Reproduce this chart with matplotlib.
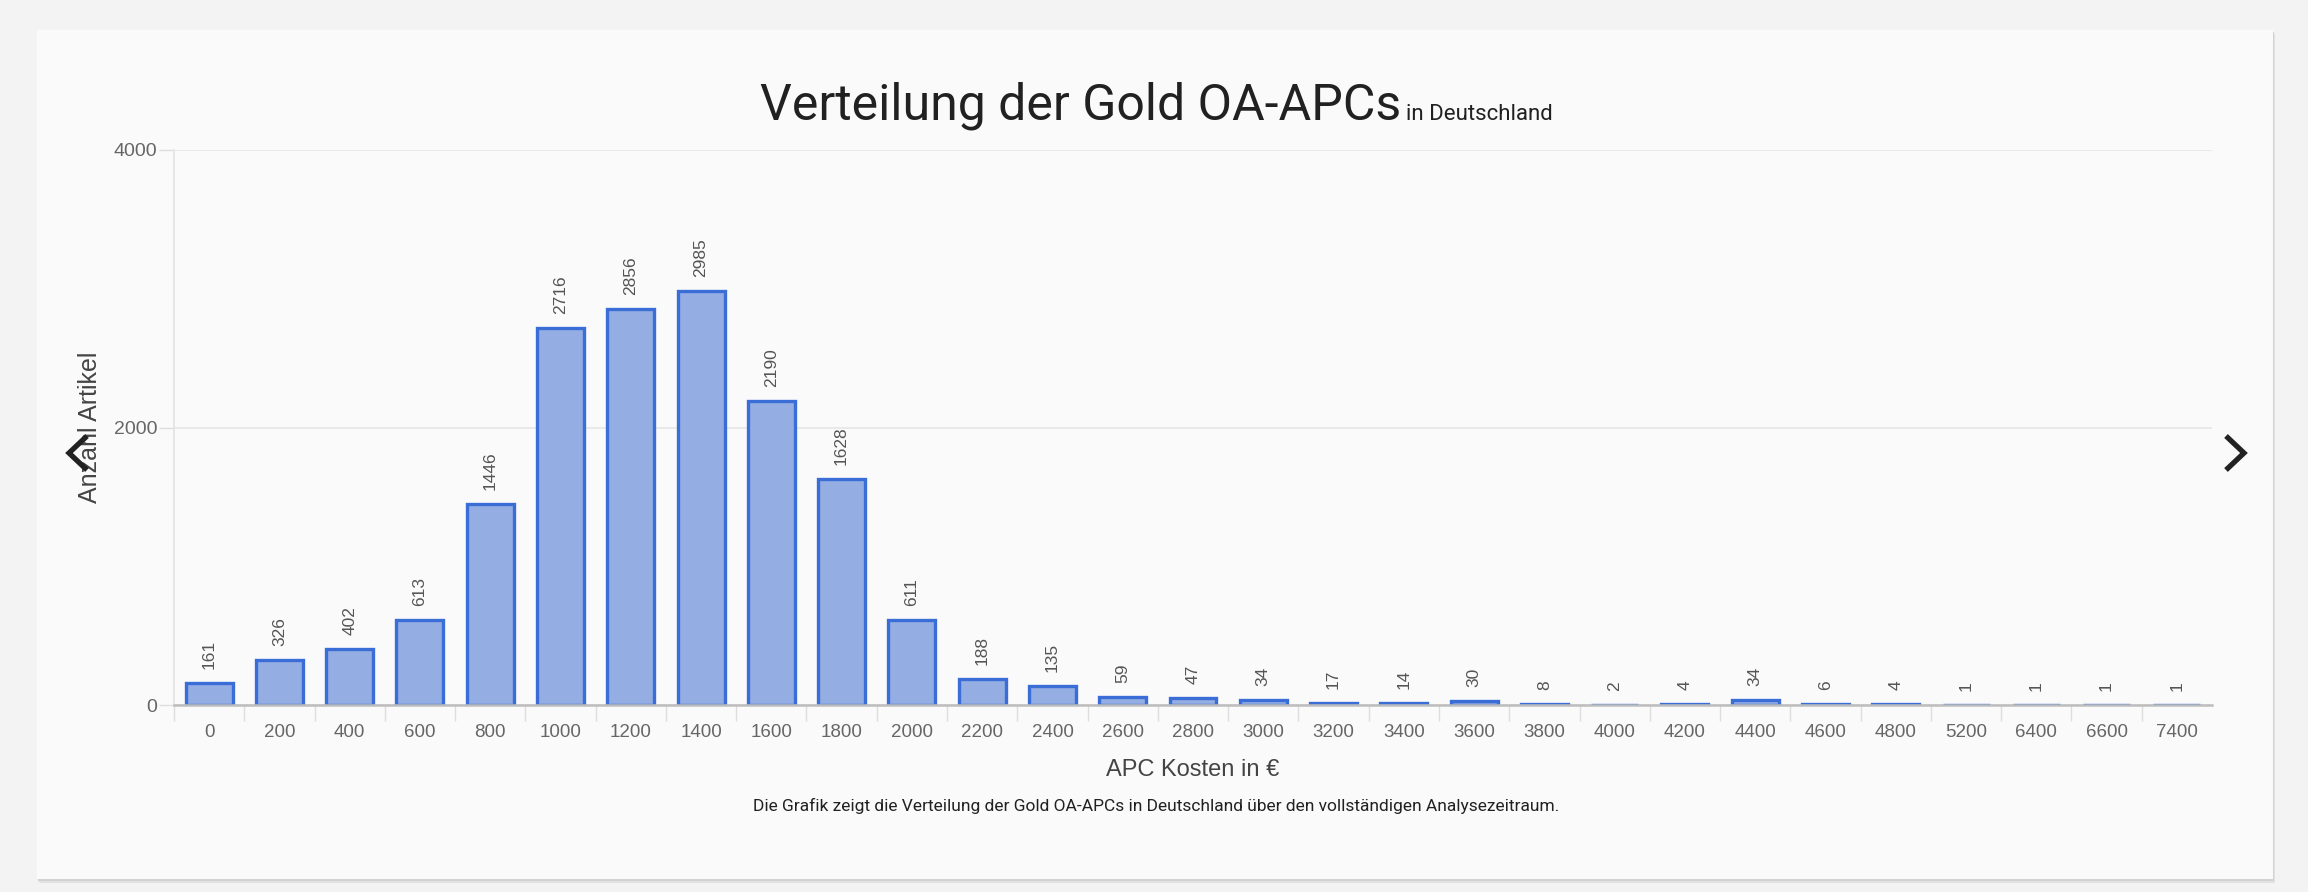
"""
Verteilung der Gold OA-APCs in Deutschland - bar chart recreation.
"""

import matplotlib
matplotlib.use('Agg')
import matplotlib.pyplot as plt
from matplotlib.lines import Line2D
from matplotlib.patches import Rectangle
from matplotlib.ticker import FixedLocator

# Data
CATEGORIES = ['0', '200', '400', '600', '800', '1000', '1200', '1400', '1600',
              '1800', '2000', '2200', '2400', '2600', '2800', '3000', '3200',
              '3400', '3600', '3800', '4000', '4200', '4400', '4600', '4800',
              '5200', '6400', '6600', '7400']
COUNTS = [161, 326, 402, 613, 1446, 2716, 2856, 2985, 2190, 1628, 611, 188,
          135, 59, 47, 34, 17, 14, 30, 8, 2, 4, 34, 6, 4, 1, 1, 1, 1]
Y_TICKS = [0, 2000, 4000]

TITLE = 'Verteilung der Gold OA-APCs'
SUBTITLE = 'in Deutschland'
X_LABEL = 'APC Kosten in €'
Y_LABEL = 'Anzahl Artikel'
CAPTION = ('Die Grafik zeigt die Verteilung der Gold OA-APCs in Deutschland '
           'über den vollständigen Analysezeitraum.')

# Style
W, H = 2308, 892
DPI = 100
BAR_FILL = '#94ade3'
BAR_EDGE = '#3b6dd7'
TEXT_DARK = '#212121'
TICK_GREY = '#666666'
SANS = ['Liberation Sans', 'DejaVu Sans']
ROBOTO = ['Roboto', 'DejaVu Sans']


def px(x, y):
    """Pixel position (from top-left) to figure fraction."""
    return x / W, 1 - y / H


fig = plt.figure(figsize=(W / DPI, H / DPI), dpi=DPI, facecolor='#f3f3f3')

# Card with a soft shadow (kept behind the axes)
for off, col, z in [(4, '#e2e2e2', -3), (2, '#d2d2d2', -2)]:
    fig.patches.append(Rectangle(px(37 + off / 2, 879 + off), (2273 - 37) / W, (879 - 30) / H,
                                 transform=fig.transFigure, facecolor=col,
                                 edgecolor='none', zorder=z))
fig.patches.append(Rectangle(px(37, 879), (2273 - 37) / W, (879 - 30) / H,
                             transform=fig.transFigure, facecolor='#fafafa',
                             edgecolor='none', zorder=-1))

# Axes: plot area 174..2212 px wide, 150..705 px tall
ax = fig.add_axes([174 / W, 1 - 705 / H, (2212 - 174) / W, (705 - 150) / H])
ax.set_facecolor('none')
ax.set_zorder(1)

xs = list(range(len(CATEGORIES)))
ax.bar(xs, COUNTS, width=0.668, color=BAR_FILL, edgecolor=BAR_EDGE,
       linewidth=2.4, zorder=2)

# Value labels, rotated above each bar
for x, v in zip(xs, COUNTS):
    ax.annotate(str(v), (x, v), xytext=(0, 14), textcoords='offset pixels',
                rotation=90, ha='center', va='bottom', fontsize=12.5,
                color='#555555', family=SANS)

ax.set_xlim(-0.5, len(CATEGORIES) - 0.5)
ax.set_ylim(0, 4000)

# x axis: labels at centres, divider ticks between categories
ax.set_xticks(xs)
ax.set_xticklabels(CATEGORIES, family=SANS, fontsize=13.5, color=TICK_GREY)
ax.tick_params(axis='x', which='major', length=0, pad=14)
ax.xaxis.set_minor_locator(FixedLocator([i - 0.5 for i in xs]))
ax.tick_params(axis='x', which='minor', length=11.5, width=1, color='#dddddd')

# y axis
ax.set_yticks(Y_TICKS)
ax.set_yticklabels([str(t) for t in Y_TICKS], family=SANS, fontsize=14, color=TICK_GREY)
ax.tick_params(axis='y', length=11, width=1, color='#dddddd', pad=1)
ax.grid(axis='y', color='#e6e6e6', linewidth=1.2, zorder=0)
ax.set_axisbelow(True)

for side in ['top', 'right']:
    ax.spines[side].set_visible(False)
ax.spines['left'].set_color('#e3e3e3')
ax.spines['left'].set_linewidth(1.2)
ax.spines['bottom'].set_color('#bdbdbd')
ax.spines['bottom'].set_linewidth(1.8)
ax.spines['bottom'].set_zorder(3)

ax.set_ylabel(Y_LABEL, family=SANS, fontsize=18, color='#444444')
ax.yaxis.set_label_coords((90 - 174) / (2212 - 174), 0.5)
ax.yaxis.label.set_va('center')

ax.set_xlabel(X_LABEL, family=SANS, fontsize=17, color='#444444')
ax.xaxis.set_label_coords(0.5, (705 - 770) / (705 - 150))
ax.xaxis.label.set_va('center')

# Caption
fig.text(*px(1156, 806), CAPTION, ha='center', va='center', fontsize=12.5,
         color=TEXT_DARK, family=ROBOTO)

# Title + small subtitle on a shared baseline, centred on the card
t1 = fig.text(*px(0, 120), TITLE, ha='left', va='baseline', fontsize=36,
              color=TEXT_DARK, family=ROBOTO)
t2 = fig.text(*px(0, 120), SUBTITLE, ha='left', va='baseline', fontsize=16,
              color=TEXT_DARK, family=ROBOTO)
renderer = fig.canvas.get_renderer()
w1 = t1.get_window_extent(renderer).width
w2 = t2.get_window_extent(renderer).width
gap = 5
x0 = 1156 - (w1 + gap + w2) / 2
t1.set_x(x0 / W)
t2.set_x((x0 + w1 + gap) / W)

# Carousel chevrons
for pts in ([(87, 436), (69, 453), (87, 470)], [(2226, 436), (2244, 453), (2226, 470)]):
    fx = [px(a, b)[0] for a, b in pts]
    fy = [px(a, b)[1] for a, b in pts]
    fig.add_artist(Line2D(fx, fy, transform=fig.transFigure, color='#222222',
                          linewidth=3.8, solid_joinstyle='miter',
                          solid_capstyle='butt', zorder=5))

plt.savefig('out.png', dpi=DPI, facecolor=fig.get_facecolor())
plt.close()
